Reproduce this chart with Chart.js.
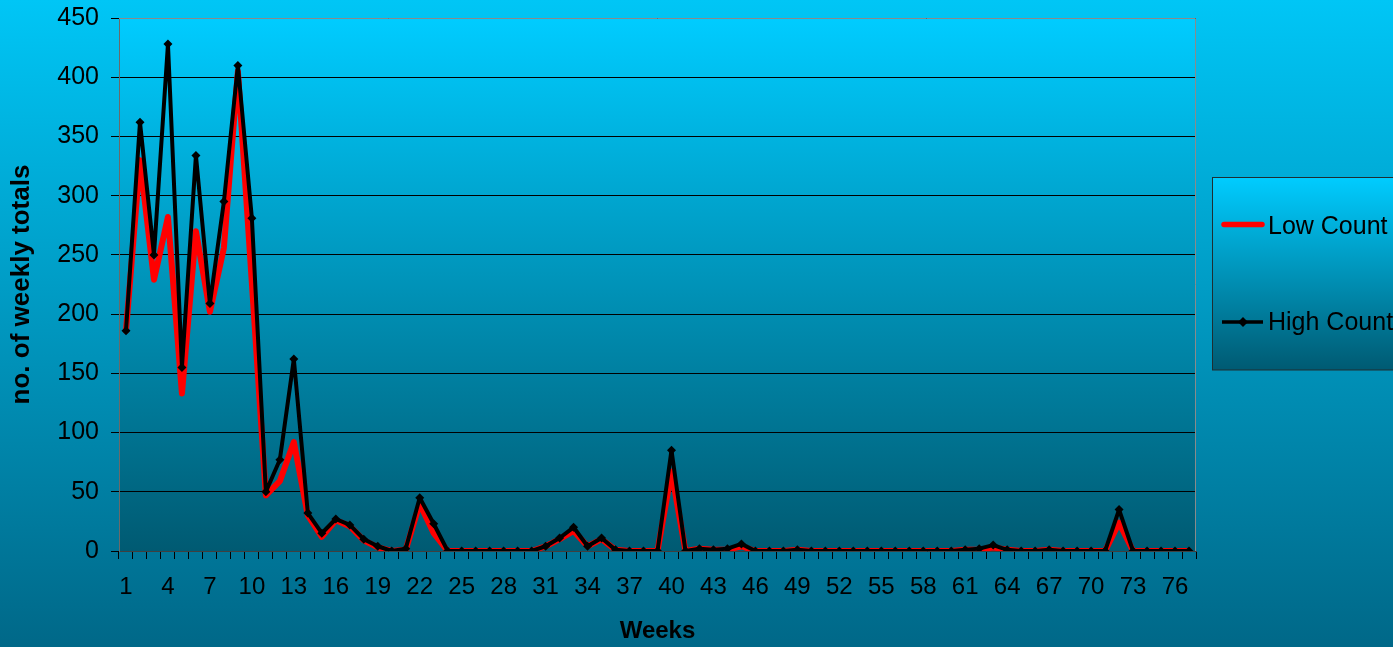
<!DOCTYPE html>
<html>
<head>
<meta charset="utf-8">
<script src="https://cdn.jsdelivr.net/npm/chart.js@4.4.1/dist/chart.umd.min.js"></script>
<style>
  html, body { margin: 0; padding: 0; background: #00a0c8; }
  #wrap { width: 1393px; height: 647px; position: relative; }
</style>
</head>
<body>
<div id="wrap"><canvas id="c" width="1393" height="647"></canvas></div>
<script>
// ---- data ----
const weeks = [];
for (let w = 1; w <= 77; w++) weeks.push(String(w));

const lowCount = [
  186, 330, 229, 282, 133, 270, 202, 256, 405, 226,
  47, 59, 92, 30, 12, 26, 21, 9, 3, 0,
  1, 40, 15, 0, 0, 0, 0, 0, 0, 0,
  4, 10, 17, 4, 10, 1, 0, 0, 0, 67,
  0, 2, 1, 1, 4, 0, 0, 0, 1, 0,
  0, 0, 0, 0, 0, 0, 0, 0, 0, 0,
  1, 1, 3, 1, 0, 0, 1, 0, 0, 0,
  0, 24, 0, 0, 0, 0, 0
];
const highCount = [
  186, 362, 250, 428, 155, 334, 209, 295, 410, 281,
  50, 77, 162, 32, 15, 27, 22, 10, 4, 0,
  2, 45, 23, 0, 0, 0, 0, 0, 0, 0,
  4, 11, 20, 4, 11, 1, 0, 0, 0, 85,
  0, 2, 1, 2, 6, 0, 0, 0, 1, 0,
  0, 0, 0, 0, 0, 0, 0, 0, 0, 0,
  1, 2, 5, 1, 0, 0, 1, 0, 0, 0,
  0, 35, 0, 0, 0, 0, 0
];
const seriesNames = ['Low Count', 'High Count'];
const yTicks = [0, 50, 100, 150, 200, 250, 300, 350, 400, 450];
const xTitle = 'Weeks';
const yTitle = 'no. of weekly totals';

const FONT = "'Liberation Sans', Arial, sans-serif";

const bgPlugin = {
  id: 'bg',
  beforeDraw(chart) {
    const ctx = chart.ctx;
    const W = chart.width, H = chart.height;
    ctx.save();
    let g = ctx.createLinearGradient(0, 0, 0, H);
    g.addColorStop(0, '#00c6f6');
    g.addColorStop(1, '#006888');
    ctx.fillStyle = g;
    ctx.fillRect(0, 0, W, H);
    const a = chart.chartArea;
    g = ctx.createLinearGradient(0, a.top, 0, a.bottom);
    g.addColorStop(0, '#00ccff');
    g.addColorStop(1, '#005a72');
    ctx.fillStyle = g;
    ctx.fillRect(a.left, a.top, a.right - a.left, a.bottom - a.top);
    ctx.restore();
  },
  beforeDatasetsDraw(chart) {
    const ctx = chart.ctx, a = chart.chartArea;
    ctx.save();
    ctx.strokeStyle = '#8a8a8a';
    ctx.lineWidth = 1;
    ctx.beginPath();
    ctx.moveTo(a.left, a.top + 0.5);
    ctx.lineTo(a.right - 0.5, a.top + 0.5);
    ctx.lineTo(a.right - 0.5, a.bottom);
    ctx.stroke();
    ctx.restore();
  },
  afterDraw(chart) {
    const ctx = chart.ctx;
    const x0 = 1212.5, y0 = 177.5, x1 = 1400, y1 = 370;
    ctx.save();
    const g = ctx.createLinearGradient(0, y0, 0, y1);
    g.addColorStop(0, '#00ccff');
    g.addColorStop(1, '#005a72');
    ctx.fillStyle = g;
    ctx.fillRect(x0, y0, x1 - x0, y1 - y0);
    ctx.strokeStyle = '#1e2e32';
    ctx.lineWidth = 1;
    ctx.strokeRect(x0, y0, x1 - x0, y1 - y0);
    // Low Count
    ctx.strokeStyle = '#ff0000';
    ctx.lineWidth = 5.5;
    ctx.lineCap = 'round';
    ctx.beginPath(); ctx.moveTo(1224, 224.5); ctx.lineTo(1262, 224.5); ctx.stroke();
    // High Count
    ctx.strokeStyle = '#000000';
    ctx.lineWidth = 3.5;
    ctx.lineCap = 'butt';
    ctx.beginPath(); ctx.moveTo(1222, 322); ctx.lineTo(1263, 322); ctx.stroke();
    ctx.fillStyle = '#000';
    ctx.beginPath();
    ctx.moveTo(1243, 317); ctx.lineTo(1248, 322); ctx.lineTo(1243, 327); ctx.lineTo(1238, 322);
    ctx.closePath(); ctx.fill();
    ctx.font = '25px ' + FONT;
    ctx.textBaseline = 'middle';
    ctx.textAlign = 'left';
    ctx.fillText(seriesNames[0], 1268, 227);
    ctx.fillText(seriesNames[1], 1268, 323);
    ctx.restore();
  }
};

new Chart(document.getElementById('c'), {
  type: 'line',
  data: {
    labels: weeks,
    datasets: [
      {
        label: seriesNames[0],
        data: lowCount,
        borderColor: '#ff0000',
        backgroundColor: '#ff0000',
        borderWidth: 6,
        pointRadius: 0,
        pointHoverRadius: 0,
        tension: 0,
        borderJoinStyle: 'round',
        borderCapStyle: 'round',
        order: 1
      },
      {
        label: seriesNames[1],
        data: highCount,
        borderColor: '#000000',
        backgroundColor: '#000000',
        borderWidth: 4,
        pointStyle: 'rectRot',
        pointRadius: 4.5,
        pointBorderWidth: 0,
        pointBackgroundColor: '#000000',
        tension: 0,
        borderJoinStyle: 'round',
        order: 0
      }
    ]
  },
  options: {
    responsive: false,
    animation: false,
    devicePixelRatio: 1,
    layout: { padding: { top: 18, right: 197, left: 0, bottom: 0 } },
    plugins: { legend: { display: false }, tooltip: { enabled: false } },
    scales: {
      x: {
        type: 'category',
        offset: true,
        afterFit(scale) { scale.height = 96; scale.paddingLeft = 0; scale.paddingRight = 0; },
        grid: {
          offset: true,
          drawOnChartArea: false,
          drawTicks: true,
          tickLength: 8,
          color: '#000000'
        },
        border: { display: true, color: '#404040', width: 1 },
        ticks: {
          autoSkip: false,
          maxRotation: 0,
          minRotation: 0,
          padding: 14,
          color: '#000000',
          font: { family: FONT, size: 24 },
          callback(val, idx) { return idx % 3 === 0 ? weeks[idx] : ''; }
        },
        title: {
          display: true,
          text: xTitle,
          color: '#000000',
          font: { family: FONT, size: 24, weight: 'bold' },
          padding: { top: 0, bottom: 1 }
        }
      },
      y: {
        min: 0,
        max: 450,
        afterFit(scale) { scale.width = 119; scale.paddingTop = 0; scale.paddingBottom = 0; },
        afterBuildTicks(scale) { scale.ticks = yTicks.map(v => ({ value: v })); },
        grid: {
          color: '#000000',
          lineWidth: 1,
          tickLength: 8,
          drawTicks: true
        },
        border: { display: true, color: '#6a6a6a', width: 1 },
        ticks: {
          padding: 12,
          color: '#000000',
          font: { family: FONT, size: 25 }
        },
        title: {
          display: true,
          text: yTitle,
          color: '#000000',
          font: { family: FONT, size: 26, weight: 'bold' },
          padding: { top: 6, bottom: 0 }
        }
      }
    }
  },
  plugins: [bgPlugin]
});
</script>
</body>
</html>
